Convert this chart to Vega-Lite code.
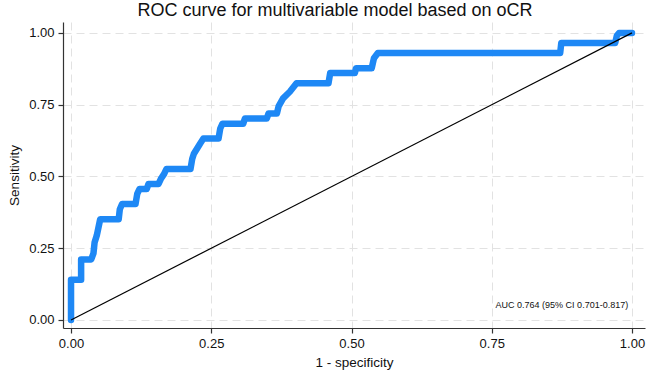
{
  "$schema": "https://vega.github.io/schema/vega-lite/v6.json",
  "width": 582,
  "height": 306,
  "autosize": {"type": "none"},
  "padding": {"left": 63, "top": 22, "right": 3, "bottom": 44},
  "background": "white",
  "config": {
    "view": {"stroke": null},
    "font": "Liberation Sans",
    "axis": {
      "grid": true,
      "gridDash": [8, 5],
      "gridColor": "#e2e2e2",
      "gridWidth": 1,
      "domainColor": "#333333",
      "domainWidth": 1.2,
      "tickColor": "#333333",
      "tickSize": 5,
      "tickWidth": 1.2,
      "labelFontSize": 13,
      "labelColor": "#111111",
      "titleFontSize": 13.5,
      "titleFontWeight": "normal",
      "titleColor": "#111111"
    }
  },
  "title": {
    "text": "ROC curve for multivariable model based on oCR",
    "fontSize": 18,
    "fontWeight": "normal",
    "color": "#111111",
    "offset": 2,
    "dx": -19
  },
  "layer": [
    {
      "data": {
        "values": [
          {"i": 0, "fpr": 0, "sens": 0},
          {"i": 1, "fpr": 0, "sens": 0.140},
          {"i": 2, "fpr": 0.018, "sens": 0.140},
          {"i": 3, "fpr": 0.018, "sens": 0.211},
          {"i": 4, "fpr": 0.036, "sens": 0.211},
          {"i": 5, "fpr": 0.040, "sens": 0.232},
          {"i": 6, "fpr": 0.042, "sens": 0.270},
          {"i": 7, "fpr": 0.046, "sens": 0.295},
          {"i": 8, "fpr": 0.052, "sens": 0.351},
          {"i": 9, "fpr": 0.085, "sens": 0.351},
          {"i": 10, "fpr": 0.087, "sens": 0.386},
          {"i": 11, "fpr": 0.091, "sens": 0.404},
          {"i": 12, "fpr": 0.115, "sens": 0.404},
          {"i": 13, "fpr": 0.118, "sens": 0.439},
          {"i": 14, "fpr": 0.122, "sens": 0.456},
          {"i": 15, "fpr": 0.135, "sens": 0.456},
          {"i": 16, "fpr": 0.138, "sens": 0.474},
          {"i": 17, "fpr": 0.156, "sens": 0.474},
          {"i": 18, "fpr": 0.160, "sens": 0.491},
          {"i": 19, "fpr": 0.166, "sens": 0.509},
          {"i": 20, "fpr": 0.170, "sens": 0.526},
          {"i": 21, "fpr": 0.213, "sens": 0.526},
          {"i": 22, "fpr": 0.216, "sens": 0.561},
          {"i": 23, "fpr": 0.219, "sens": 0.579},
          {"i": 24, "fpr": 0.230, "sens": 0.614},
          {"i": 25, "fpr": 0.236, "sens": 0.632},
          {"i": 26, "fpr": 0.263, "sens": 0.632},
          {"i": 27, "fpr": 0.266, "sens": 0.667},
          {"i": 28, "fpr": 0.270, "sens": 0.684},
          {"i": 29, "fpr": 0.307, "sens": 0.684},
          {"i": 30, "fpr": 0.310, "sens": 0.702},
          {"i": 31, "fpr": 0.349, "sens": 0.702},
          {"i": 32, "fpr": 0.352, "sens": 0.719},
          {"i": 33, "fpr": 0.367, "sens": 0.719},
          {"i": 34, "fpr": 0.370, "sens": 0.744},
          {"i": 35, "fpr": 0.378, "sens": 0.772},
          {"i": 36, "fpr": 0.390, "sens": 0.795},
          {"i": 37, "fpr": 0.402, "sens": 0.825},
          {"i": 38, "fpr": 0.459, "sens": 0.825},
          {"i": 39, "fpr": 0.462, "sens": 0.860},
          {"i": 40, "fpr": 0.506, "sens": 0.860},
          {"i": 41, "fpr": 0.508, "sens": 0.877},
          {"i": 42, "fpr": 0.536, "sens": 0.877},
          {"i": 43, "fpr": 0.540, "sens": 0.912},
          {"i": 44, "fpr": 0.547, "sens": 0.930},
          {"i": 45, "fpr": 0.872, "sens": 0.930},
          {"i": 46, "fpr": 0.874, "sens": 0.965},
          {"i": 47, "fpr": 0.970, "sens": 0.965},
          {"i": 48, "fpr": 0.973, "sens": 0.990},
          {"i": 49, "fpr": 0.977, "sens": 1.0},
          {"i": 50, "fpr": 1.0, "sens": 1.0}
        ]
      },
      "mark": {"type": "line", "color": "#1E88F5", "strokeWidth": 6.5, "strokeCap": "round", "strokeJoin": "round"},
      "encoding": {
        "x": {
          "field": "fpr",
          "type": "quantitative",
          "scale": {"domain": [-0.0143, 1.0232], "nice": false, "zero": false},
          "axis": {"title": "1 - specificity", "values": [0, 0.25, 0.5, 0.75, 1], "format": ".2f", "labelPadding": 4, "titlePadding": 5}
        },
        "y": {
          "field": "sens",
          "type": "quantitative",
          "scale": {"domain": [-0.0279, 1.038], "nice": false, "zero": false},
          "axis": {"title": "Sensitivity", "values": [0, 0.25, 0.5, 0.75, 1], "format": ".2f", "labelPadding": 4, "titlePadding": 7}
        },
        "order": {"field": "i", "type": "quantitative"}
      }
    },
    {
      "data": {"values": [{"fpr": 0, "sens": 0}, {"fpr": 1, "sens": 1}]},
      "mark": {"type": "line", "color": "#000000", "strokeWidth": 1.2},
      "encoding": {
        "x": {"field": "fpr", "type": "quantitative"},
        "y": {"field": "sens", "type": "quantitative"}
      }
    },
    {
      "data": {"values": [{"fpr": 0.875, "sens": 0.052, "label": "AUC 0.764 (95% CI 0.701-0.817)"}]},
      "mark": {"type": "text", "fontSize": 9, "color": "#111111", "align": "center", "baseline": "middle"},
      "encoding": {
        "x": {"field": "fpr", "type": "quantitative"},
        "y": {"field": "sens", "type": "quantitative"},
        "text": {"field": "label"}
      }
    }
  ]
}
